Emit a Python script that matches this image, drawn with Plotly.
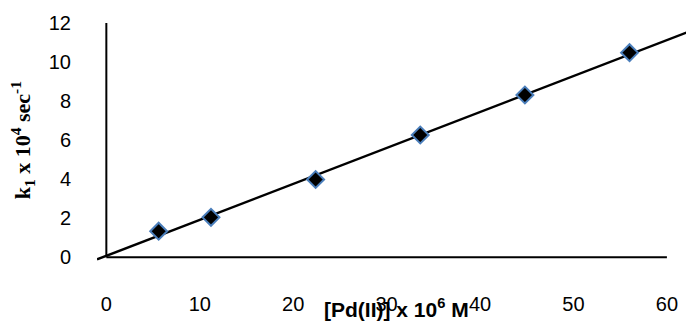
import numpy as np
import plotly.graph_objects as go

# Data
pd_conc = [5.6, 11.2, 22.4, 33.6, 44.8, 56.0]        # [Pd(II)] x 10^6 M
k1_vals = [1.33, 2.04, 3.98, 6.26, 8.31, 10.48]      # k1 x 10^4 sec^-1
x_ticks = [0, 10, 20, 30, 40, 50, 60]
y_ticks = [0, 2, 4, 6, 8, 10, 12]
trend_span = [-1.0, 62.9]   # trendline forecast backward / forward

# Linear trendline from data
slope, intercept = np.polyfit(pd_conc, k1_vals, 1)
tx = np.array(trend_span)
ty = slope * tx + intercept

fig = go.Figure()
fig.add_trace(go.Scatter(
    x=tx, y=ty, mode="lines",
    line=dict(color="black", width=2.5),
    hoverinfo="skip", showlegend=False,
))
fig.add_trace(go.Scatter(
    x=pd_conc, y=k1_vals, mode="markers",
    marker=dict(symbol="diamond", size=13, color="black",
                line=dict(color="#4A7EBB", width=2)),
    showlegend=False, cliponaxis=False,
))

# axis lines (0..60 and 0..12)
fig.add_shape(type="line", xref="x", yref="y", x0=x_ticks[0], x1=x_ticks[-1], y0=0, y1=0,
              line=dict(color="black", width=2))
fig.add_shape(type="line", xref="x", yref="y", x0=0, x1=0, y0=y_ticks[0], y1=y_ticks[-1],
              line=dict(color="black", width=2))

tick_font = dict(family="Liberation Sans, Arial, sans-serif", size=20, color="black")
fig.update_xaxes(range=[trend_span[0], trend_span[1]], tickvals=x_ticks, ticktext=[str(v) for v in x_ticks],
                 showgrid=False, zeroline=False, showline=False, ticks="", automargin=False,
                 tickfont=tick_font, ticklabelstandoff=26)
fig.update_yaxes(range=[-0.35, 12.0], tickvals=y_ticks, ticktext=[str(v) for v in y_ticks],
                 showgrid=False, zeroline=False, showline=False, ticks="", automargin=False,
                 tickfont=tick_font, ticklabelstandoff=25)

fig.add_annotation(
    text="<b>[Pd(II)] x 10<sup>6</sup> M</b>", xref="paper", yref="paper",
    x=0.5025, y=-0.1836, xanchor="center", yanchor="middle", showarrow=False,
    font=dict(family="Liberation Sans, Arial, sans-serif", size=21, color="black"),
)
fig.add_annotation(
    text="<b>k<sub>1</sub> x 10<sup>4</sup> sec<sup>-1</sup></b>", xref="paper", yref="paper",
    x=-0.1256, y=0.514, xanchor="center", yanchor="middle", textangle=-90, showarrow=False,
    font=dict(family="Liberation Serif, Times New Roman, serif", size=22, color="black"),
)

# page body has an 8px default margin; size the figure to fill the 694x324 window
fig.update_layout(
    width=686, height=316,
    margin=dict(l=89, r=0, t=15, b=60, autoexpand=False),
    plot_bgcolor="white", paper_bgcolor="white",
)
fig.write_html("out.html")
